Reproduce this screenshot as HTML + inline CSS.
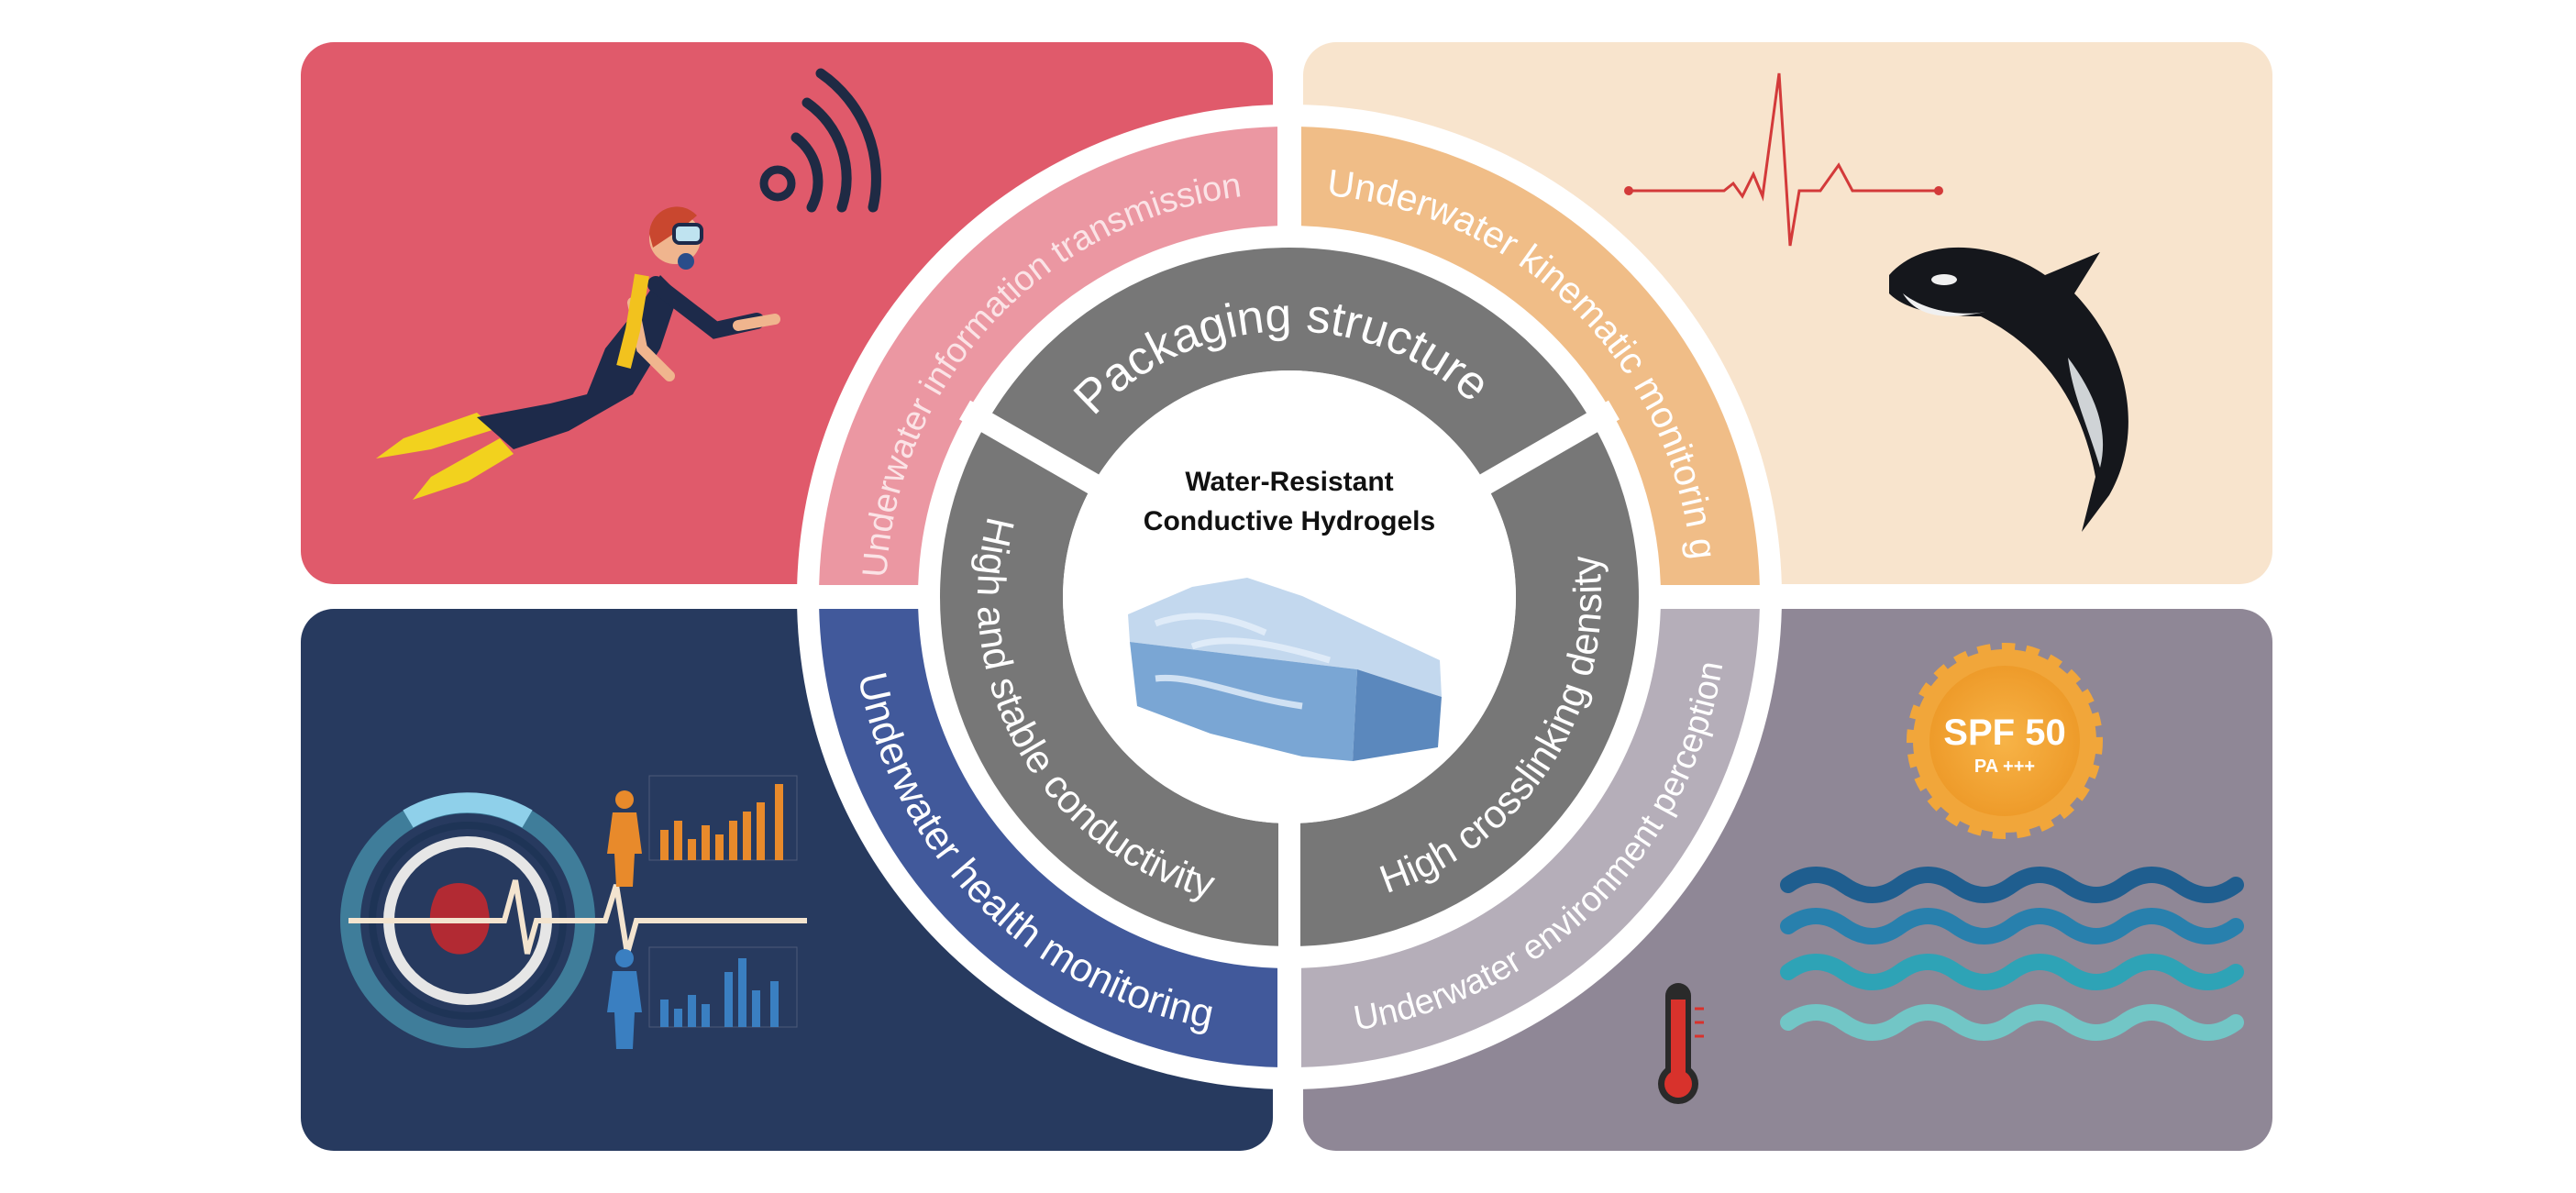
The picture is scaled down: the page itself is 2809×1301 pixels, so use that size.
<!DOCTYPE html>
<html><head><meta charset="utf-8"><style>
html,body{margin:0;padding:0;background:#fff;}
svg{display:block;}
text{font-family:"Liberation Sans",Arial,sans-serif;}
</style></head><body>
<svg width="2809" height="1301" viewBox="0 0 2809 1301" xmlns="http://www.w3.org/2000/svg">
<defs>
<clipPath id="qTL"><rect x="0" y="0" width="1393" height="638"/></clipPath>
<clipPath id="qTR"><rect x="1419" y="0" width="1400" height="638"/></clipPath>
<clipPath id="qBL"><rect x="0" y="664" width="1393" height="700"/></clipPath>
<clipPath id="qBR"><rect x="1419" y="664" width="1400" height="700"/></clipPath>
<path id="pPink" d="M985.2,779.6 A440,440 0 0 1 1505,222.3"/>
<path id="pOrange" d="M1292.1,226 A440,440 0 0 1 1831,764.9"/>
<path id="pGrayO" d="M1282.3,1112.7 A478,478 0 0 0 1867.7,527.3"/>
<path id="pBlue" d="M944.3,527.3 A478,478 0 0 0 1529.7,1112.7"/>
<path id="pPack" d="M1150,514.8 A290,290 0 0 1 1651.9,497.3"/>
<path id="pHigh" d="M1111.6,481 A340,340 0 0 0 1406,991"/>
<path id="pCross" d="M1394.1,990.8 A340,340 0 0 0 1706.2,491.4"/>
<linearGradient id="gel" x1="0" y1="0" x2="1" y2="1"><stop offset="0" stop-color="#c9dcef"/><stop offset="1" stop-color="#5d8fc4"/></linearGradient>
<radialGradient id="sun"><stop offset="0" stop-color="#f7b347"/><stop offset="1" stop-color="#ee9b2a"/></radialGradient>
</defs>

<rect x="328" y="46" width="1060" height="591" rx="36" fill="#e05a6b"/>
<rect x="1421" y="46" width="1057" height="591" rx="36" fill="#f8e4cd"/>
<rect x="328" y="664" width="1060" height="591" rx="36" fill="#273a5f"/>
<rect x="1421" y="664" width="1057" height="591" rx="36" fill="#8f8796"/>

<g fill="none" stroke="#1f2a44" stroke-linecap="round">
<circle cx="848" cy="200" r="15" stroke-width="9"/>
<path d="M868,150 A60,60 0 0 1 885,226" stroke-width="11"/>
<path d="M880,112 A100,100 0 0 1 918,226" stroke-width="11"/>
<path d="M895,80 A140,140 0 0 1 952,226" stroke-width="11"/>
</g>

<g>
<path d="M520,450 L440,478 L410,500 L470,490 L540,468 Z" fill="#f2d21e"/>
<path d="M545,478 L470,520 L450,545 L510,525 L560,495 Z" fill="#f2d21e"/>
<path d="M520,455 L600,440 L640,430 L660,380 L700,330 L720,300 L740,320 L720,380 L690,430 L620,470 L560,490 Z" fill="#1d2a4a"/>
<path d="M715,310 L780,360 L825,350" stroke="#1d2a4a" stroke-width="18" fill="none" stroke-linecap="round"/>
<path d="M805,355 L845,348" stroke="#f0b58e" stroke-width="12" stroke-linecap="round"/>
<path d="M690,330 L700,380 L730,410" stroke="#f0b58e" stroke-width="12" fill="none" stroke-linecap="round"/>
<path d="M700,300 L690,360 L680,400" stroke="#f2c21e" stroke-width="16" fill="none"/>
<circle cx="736" cy="260" r="28" fill="#f0b58e"/>
<path d="M708,255 A30,30 0 0 1 760,235 L745,248 L712,270 Z" fill="#c9472f"/>
<rect x="735" y="245" width="30" height="20" rx="6" fill="#bfe3f0" stroke="#1d2a4a" stroke-width="4"/>
<circle cx="748" cy="285" r="9" fill="#2a4d8a"/>
</g>

<polyline points="1776,208 1880,208 1890,200 1900,214 1912,190 1922,214 1940,80 1952,268 1962,208 1985,208 2005,180 2020,208 2114,208" fill="none" stroke="#d33a3a" stroke-width="3"/>
<circle cx="1776" cy="208" r="5" fill="#d33a3a"/><circle cx="2114" cy="208" r="5" fill="#d33a3a"/>

<g>
<path d="M2060,300 C2100,255 2180,265 2230,300 L2290,275 L2262,320 C2320,380 2340,470 2300,540 L2270,580 L2285,520 C2270,440 2230,380 2160,345 C2120,345 2080,340 2060,320 Z" fill="#15171c"/>
<path d="M2075,320 C2100,340 2140,345 2165,340 C2120,350 2090,345 2075,320 Z" fill="#f0f0f0"/>
<path d="M2255,390 C2285,430 2300,470 2290,510 C2275,460 2260,430 2255,390 Z" fill="#cfd3d6"/>
<ellipse cx="2120" cy="305" rx="14" ry="6" fill="#f0f0f0"/>
</g>

<g>
<circle cx="2186" cy="808" r="100" fill="#f1a63a" stroke="#f1a63a" stroke-width="14" stroke-dasharray="14 12"/>
<circle cx="2186" cy="808" r="82" fill="url(#sun)"/>
<text x="2186" y="812" text-anchor="middle" font-size="40" font-weight="bold" fill="#fff">SPF 50</text>
<text x="2186" y="842" text-anchor="middle" font-size="20" font-weight="bold" fill="#fff">PA +++</text>
</g>

<g fill="none" stroke-width="18" stroke-linecap="round">
<path d="M1950,965 q30,-22 61,0 t61,0 t61,0 t61,0 t61,0 t61,0 t61,0 t61,0" stroke="#1f5e8f"/>
<path d="M1950,1010 q30,-22 61,0 t61,0 t61,0 t61,0 t61,0 t61,0 t61,0 t61,0" stroke="#2880ad"/>
<path d="M1950,1060 q30,-22 61,0 t61,0 t61,0 t61,0 t61,0 t61,0 t61,0 t61,0" stroke="#2ea3b6"/>
<path d="M1950,1115 q30,-22 61,0 t61,0 t61,0 t61,0 t61,0 t61,0 t61,0 t61,0" stroke="#72c6c6"/>
</g>

<g>
<rect x="1816" y="1072" width="28" height="110" rx="14" fill="#2a2a2a"/>
<circle cx="1830" cy="1182" r="22" fill="#2a2a2a"/>
<rect x="1822" y="1090" width="16" height="95" fill="#d8322c"/>
<circle cx="1830" cy="1182" r="15" fill="#d8322c"/>
<path d="M1848,1100 h10 M1848,1115 h10 M1848,1130 h10" stroke="#d8322c" stroke-width="3"/>
</g>

<g>
<circle cx="510" cy="1004" r="128" fill="none" stroke="#3f7d9a" stroke-width="22"/>
<path d="M445,893 A128,128 0 0 1 575,893" fill="none" stroke="#8fd0ea" stroke-width="22"/>
<circle cx="510" cy="1004" r="104" fill="none" stroke="#1e3456" stroke-width="8"/>
<circle cx="510" cy="1004" r="86" fill="none" stroke="#e6e6e6" stroke-width="12"/>
<path d="M478,970 C500,955 530,965 532,990 C540,1020 520,1045 495,1040 C470,1035 460,1000 478,970 Z" fill="#b22a33"/>
<polyline points="380,1004 550,1004 562,960 575,1040 585,1004 660,1004 672,965 684,1040 694,1004 880,1004" fill="none" stroke="#f3e4cf" stroke-width="6"/>
<g stroke="#4c5a7a" stroke-width="1" fill="none">
<rect x="708" y="846" width="161" height="92"/><rect x="708" y="1033" width="161" height="87"/>
</g>
<g fill="#e88a2b">
<rect x="720" y="905" width="9" height="33"/><rect x="735" y="895" width="9" height="43"/><rect x="750" y="915" width="9" height="23"/><rect x="765" y="900" width="9" height="38"/><rect x="780" y="910" width="9" height="28"/><rect x="795" y="895" width="9" height="43"/><rect x="810" y="885" width="9" height="53"/><rect x="825" y="875" width="9" height="63"/><rect x="845" y="855" width="9" height="83"/>
</g>
<g fill="#3a7fc1">
<rect x="720" y="1090" width="9" height="30"/><rect x="735" y="1100" width="9" height="20"/><rect x="750" y="1085" width="9" height="35"/><rect x="765" y="1095" width="9" height="25"/><rect x="790" y="1060" width="9" height="60"/><rect x="805" y="1045" width="9" height="75"/><rect x="820" y="1080" width="9" height="40"/><rect x="840" y="1070" width="9" height="50"/>
</g>
<g fill="#e88a2b"><circle cx="681" cy="872" r="10"/><path d="M668,886 h26 l6,45 h-8 l-2,36 h-18 l-2,-36 h-8 Z"/></g>
<g fill="#3a7fc1"><circle cx="681" cy="1045" r="10"/><path d="M668,1059 h26 l6,45 h-8 l-2,40 h-18 l-2,-40 h-8 Z"/></g>
</g>

<circle cx="1406" cy="651" r="537" fill="#fff"/>
<circle cx="1406" cy="651" r="459" fill="none" stroke="#eb97a2" stroke-width="108" clip-path="url(#qTL)"/>
<circle cx="1406" cy="651" r="459" fill="none" stroke="#f0bd87" stroke-width="108" clip-path="url(#qTR)"/>
<circle cx="1406" cy="651" r="459" fill="none" stroke="#41599b" stroke-width="108" clip-path="url(#qBL)"/>
<circle cx="1406" cy="651" r="459" fill="none" stroke="#b5aeb9" stroke-width="108" clip-path="url(#qBR)"/>
<circle cx="1406" cy="651" r="314" fill="none" stroke="#777777" stroke-width="134"/>
<g stroke="#fff" stroke-width="24">
<line x1="1406" y1="651" x2="1406" y2="1060"/>
<line x1="1406" y1="651" x2="1052" y2="447"/>
<line x1="1406" y1="651" x2="1760" y2="447"/>
</g>
<circle cx="1406" cy="651" r="247" fill="#fff"/>

<g fill="#fff" text-anchor="middle">
<text font-size="38" fill="#fbe3e6"><textPath href="#pPink" startOffset="50%">Underwater information transmission</textPath></text>
<text font-size="41"><textPath href="#pOrange" startOffset="50%">Underwater kinematic monitorin g</textPath></text>
<text font-size="38"><textPath href="#pGrayO" startOffset="50%">Underwater environment perception</textPath></text>
<text font-size="44"><textPath href="#pBlue" startOffset="50%">Underwater health monitoring</textPath></text>
<text font-size="52"><textPath href="#pPack" startOffset="50%">Packaging structure</textPath></text>
<text font-size="43"><textPath href="#pHigh" startOffset="50%">High and stable conductivity</textPath></text>
<text font-size="43"><textPath href="#pCross" startOffset="50%">High crosslinking density</textPath></text>
</g>

<text x="1406" y="535" text-anchor="middle" font-size="30" font-weight="bold" fill="#111">Water-Resistant</text>
<text x="1406" y="578" text-anchor="middle" font-size="30" font-weight="bold" fill="#111">Conductive Hydrogels</text>
<path d="M1230,670 L1300,640 L1360,630 L1420,650 L1570,720 L1572,760 L1480,730 L1232,700 Z" fill="#c3d8ee"/>
<path d="M1232,700 L1480,730 L1475,830 L1420,825 L1320,800 L1240,770 Z" fill="#7aa6d4"/>
<path d="M1480,730 L1572,760 L1568,815 L1475,830 Z" fill="#5b88bd"/>
<path d="M1260,680 C1300,665 1340,672 1380,690 M1300,705 C1340,690 1400,705 1450,720 M1260,740 C1300,735 1350,760 1420,770" stroke="#e6f0fa" stroke-width="7" fill="none" opacity="0.8"/>
</svg>
</body></html>
